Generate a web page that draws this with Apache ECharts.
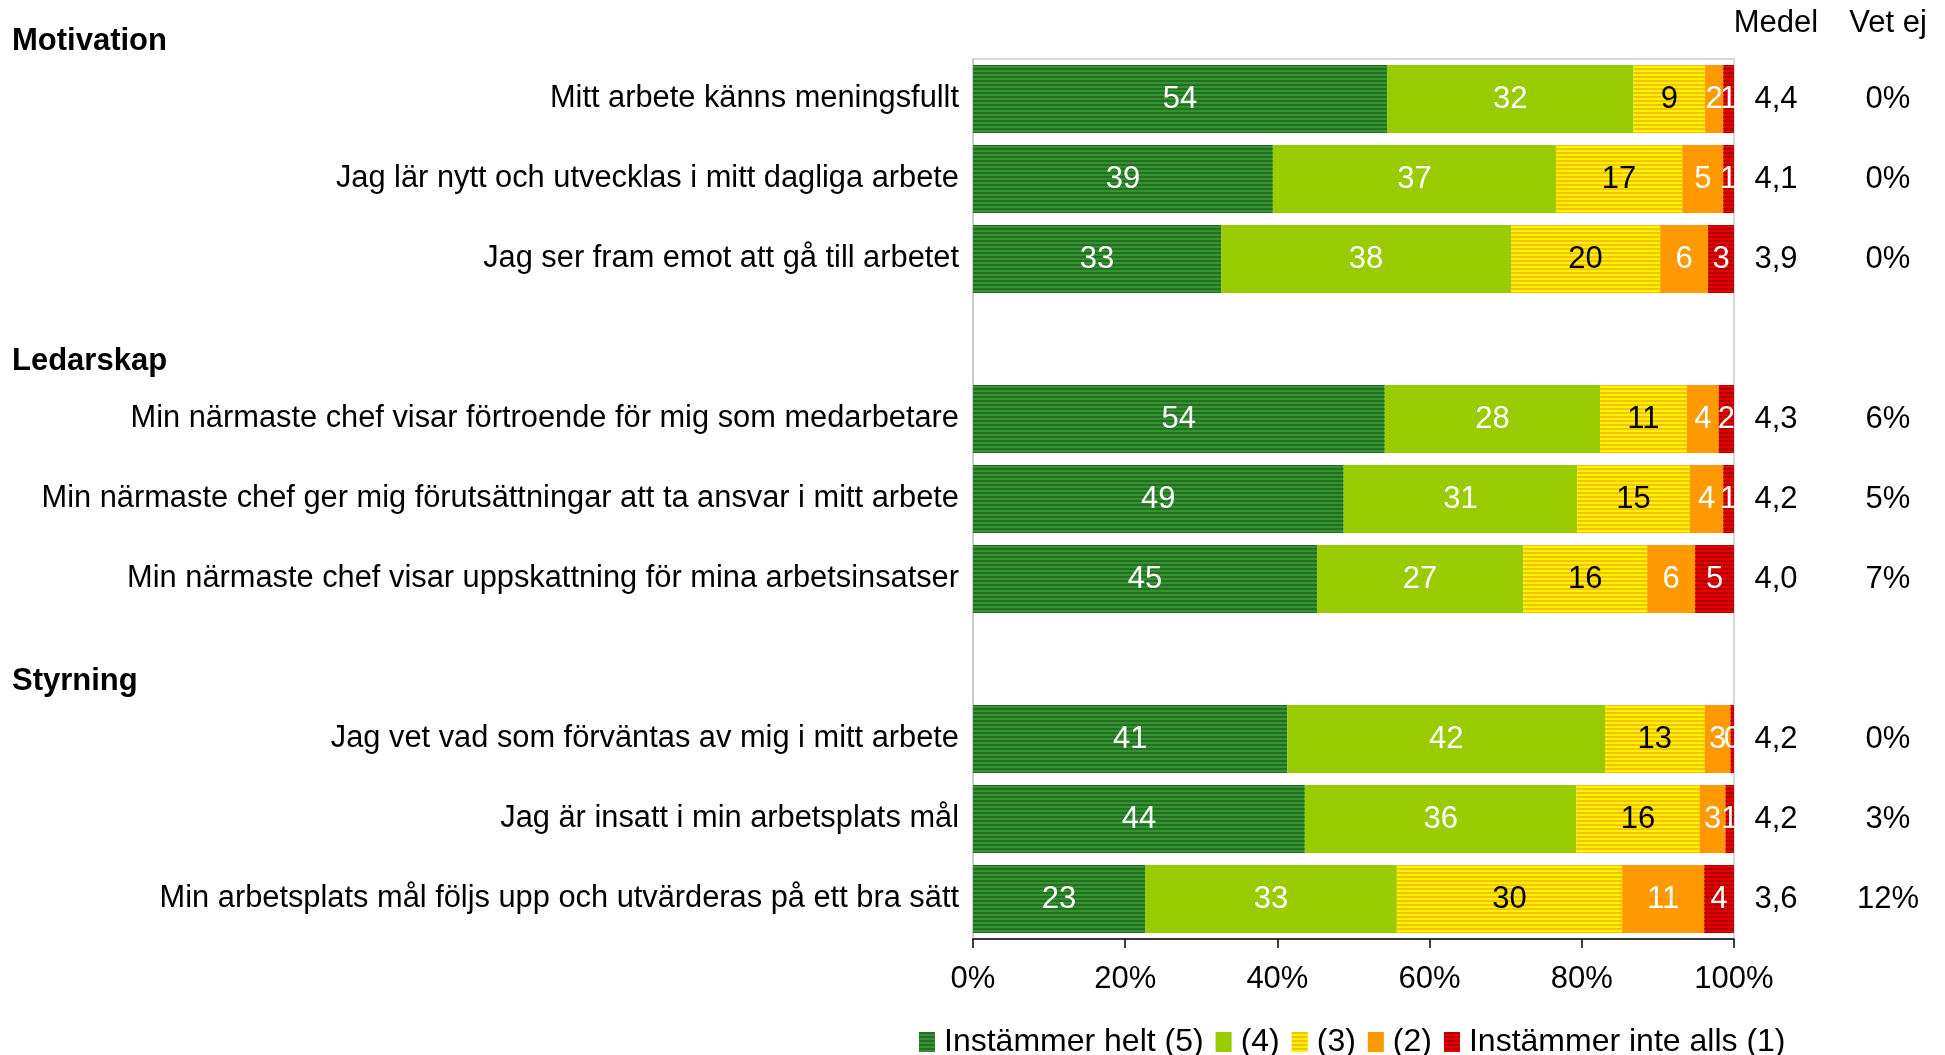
<!DOCTYPE html>
<html>
<head>
<meta charset="utf-8">
<script src="https://cdn.jsdelivr.net/npm/echarts@6/dist/echarts.min.js"></script>
<style>
html,body{margin:0;padding:0;background:#fff;}
#c{width:1945px;height:1055px;}
</style>
</head>
<body>
<div id="c"></div>
<script>
// ---- data ----
var categories = [
  "Mitt arbete känns meningsfullt",
  "Jag lär nytt och utvecklas i mitt dagliga arbete",
  "Jag ser fram emot att gå till arbetet",
  " ",
  "Min närmaste chef visar förtroende för mig som medarbetare",
  "Min närmaste chef ger mig förutsättningar att ta ansvar i mitt arbete",
  "Min närmaste chef visar uppskattning för mina arbetsinsatser",
  "  ",
  "Jag vet vad som förväntas av mig i mitt arbete",
  "Jag är insatt i min arbetsplats mål",
  "Min arbetsplats mål följs upp och utvärderas på ett bra sätt"
];
var groups = ["Motivation", "Ledarskap", "Styrning"];
var groupStartIndex = [0, 4, 8];
var seriesNames = ["Instämmer helt (5)", "(4)", "(3)", "(2)", "Instämmer inte alls (1)"];
var s5 = [54.4, 39.4, 32.6, null, 54.1, 48.7, 45.2, null, 41.3, 43.6, 22.6];
var s4 = [32.4, 37.2, 38.1, null, 28.3, 30.7, 27.1, null, 41.75, 35.7, 33.1];
var s3 = [9.4, 16.6, 19.6, null, 11.4, 14.8, 16.3, null, 13.1, 16.2, 29.6];
var s2 = [2.4, 5.4, 6.3, null, 4.2, 4.4, 6.3, null, 3.4, 3.4, 10.8];
var s1 = [1.4, 1.4, 3.4, null, 2.0, 1.4, 5.1, null, 0.45, 1.1, 3.9];
var medel = ["4,4", "4,1", "3,9", "", "4,3", "4,2", "4,0", "", "4,2", "4,2", "3,6"];
var vetEj = ["0%", "0%", "0%", "", "6%", "5%", "7%", "", "0%", "3%", "12%"];
var xTicks = [0, 20, 40, 60, 80, 100];

// ---- styles ----
var FONT = "Liberation Sans, Arial, sans-serif";
var FS = 31;
var FS_CAT = 30.8;
var styles = [
  {color: "#32932F", decal: "#256F25", label: "#ffffff"},
  {color: "#99CC00", decal: null, label: "#ffffff"},
  {color: "#FFF200", decal: "#F2C400", label: "#000000"},
  {color: "#FF9900", decal: null, label: "#ffffff"},
  {color: "#E60000", decal: "#B50000", label: "#ffffff"}
];
var seriesData = [s5, s4, s3, s2, s1];

function mkSeries(i) {
  var st = styles[i];
  var itemStyle = {color: st.color};
  if (st.decal) {
    itemStyle.decal = {
      symbol: "rect",
      symbolSize: 1,
      dashArrayX: [10, 0],
      dashArrayY: [2, 2],
      rotation: 0,
      color: st.decal
    };
  }
  return {
    name: seriesNames[i],
    type: "bar",
    stack: "total",
    barCategoryGap: "15%",
    data: seriesData[i],
    itemStyle: itemStyle,
    label: {
      show: true,
      position: "inside",
      color: st.label,
      fontSize: FS,
      fontFamily: FONT,
      formatter: function (p) {
        return p.value == null ? "" : String(Math.round(p.value));
      }
    },
    emphasis: {disabled: true}
  };
}

var chart = echarts.init(document.getElementById("c"), null, {renderer: "canvas"});
var GRID = {left: 973, right: 211, top: 59, bottom: 116};

var option = {
  animation: false,
  backgroundColor: "#ffffff",
  grid: Object.assign({show: true, borderColor: "#C6CBD8", borderWidth: 1.5, containLabel: false}, GRID),
  legend: {
    data: seriesNames,
    left: 914,
    top: 1021,
    icon: "rect",
    itemWidth: 16,
    itemHeight: 20,
    itemGap: 12,
    textStyle: {fontSize: 32, fontFamily: FONT, color: "#000", padding: [0, 0, 0, 4]}
  },
  xAxis: {
    type: "value",
    min: 0,
    max: 100,
    interval: 20,
    axisLine: {show: true, lineStyle: {color: "#000", width: 1.5}},
    axisTick: {show: true, inside: false, length: 9, lineStyle: {color: "#000", width: 1.5}},
    splitLine: {show: false},
    axisLabel: {
      fontSize: FS, fontFamily: FONT, color: "#000", margin: 25,
      formatter: function (v) { return xTicks.indexOf(v) >= 0 ? v + "%" : ""; }
    }
  },
  yAxis: [
    {
      type: "category",
      data: categories,
      inverse: true,
      axisLine: {show: true, lineStyle: {color: "#C6CBD8", width: 2}},
      axisTick: {show: false},
      axisLabel: {fontSize: FS_CAT, fontFamily: FONT, color: "#000", margin: 14, padding: [10, 0, 0, 0]}
    },
    {
      type: "category",
      data: categories,
      inverse: true,
      position: "right",
      offset: 42,
      axisLine: {show: false},
      axisTick: {show: false},
      axisLabel: {
        fontSize: FS, fontFamily: FONT, color: "#000", margin: 0, align: "center", padding: [10, 0, 0, 0],
        formatter: function (v, i) { return medel[i]; }
      }
    },
    {
      type: "category",
      data: categories,
      inverse: true,
      position: "right",
      offset: 154,
      axisLine: {show: false},
      axisTick: {show: false},
      axisLabel: {
        fontSize: FS, fontFamily: FONT, color: "#000", margin: 0, align: "center", padding: [10, 0, 0, 0],
        formatter: function (v, i) { return vetEj[i]; }
      }
    }
  ],
  series: [0, 1, 2, 3, 4].map(mkSeries)
};
chart.setOption(option);

// headers positioned relative to the category axis
var graphics = [];
groups.forEach(function (g, k) {
  var y = chart.convertToPixel({yAxisIndex: 0}, groupStartIndex[k]) - 58;
  graphics.push({
    type: "text", x: 12, y: y,
    style: {text: g, fontSize: FS, fontWeight: "bold", fontFamily: FONT, fill: "#000", textAlign: "left", textVerticalAlign: "middle"}
  });
});
var xMedel = chart.convertToPixel({xAxisIndex: 0}, 100) + 42;
var xVet = chart.convertToPixel({xAxisIndex: 0}, 100) + 154;
graphics.push({type: "text", x: xMedel, y: 23,
  style: {text: "Medel", fontSize: FS, fontFamily: FONT, fill: "#000", textAlign: "center", textVerticalAlign: "middle"}});
graphics.push({type: "text", x: xVet, y: 23,
  style: {text: "Vet ej", fontSize: FS, fontFamily: FONT, fill: "#000", textAlign: "center", textVerticalAlign: "middle"}});
chart.setOption({graphic: graphics});
</script>
</body>
</html>
